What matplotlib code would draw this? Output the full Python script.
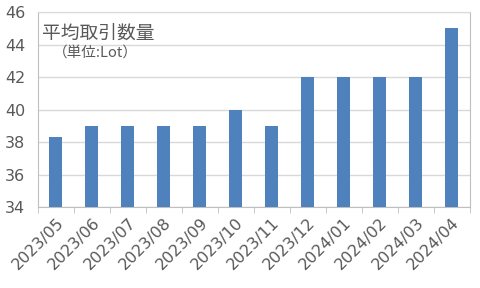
import matplotlib.pyplot as plt
import numpy as np

plt.rcParams['font.family'] = ['Noto Sans CJK JP', 'DejaVu Sans']

months = ['2023/05', '2023/06', '2023/07', '2023/08', '2023/09', '2023/10',
          '2023/11', '2023/12', '2024/01', '2024/02', '2024/03', '2024/04']
avg_lots = [38.3, 39, 39, 39, 39, 40, 39, 42, 42, 42, 42, 45]
y_ticks = [34, 36, 38, 40, 42, 44, 46]

text_col = '#595959'
grid_col = '#d9d9d9'

fig = plt.figure(figsize=(4.8, 2.88), dpi=100)
ax = fig.add_axes([0.079, 0.281, 0.9, 0.677])

x = np.arange(len(months))
ax.bar(x, avg_lots, width=0.36, color='#4f81bd', zorder=3)

ax.set_ylim(34, 46)
ax.set_yticks(y_ticks)
ax.set_xlim(-0.5, len(months) - 0.5)
ax.set_xticks(x)
ax.set_xticklabels(months, rotation=45, ha='right', rotation_mode='anchor',
                   fontfamily='DejaVu Sans')
ax.set_xticks(np.arange(-0.5, len(months)), minor=True)
ax.tick_params(axis='x', which='major', length=0, pad=6, labelsize=11.5, colors=text_col)
ax.tick_params(axis='x', which='minor', length=4, color='#bfbfbf')
ax.tick_params(axis='y', length=0, pad=9, labelsize=11.5, colors=text_col)
for lbl in ax.get_yticklabels():
    lbl.set_fontfamily('DejaVu Sans')

ax.grid(axis='y', color=grid_col, linewidth=1, zorder=0)
for s in ['left', 'bottom', 'right']:
    ax.spines[s].set_color('#bfbfbf')
ax.spines['top'].set_color(grid_col)

ax.text(0.01, 0.945, '平均取引数量', transform=ax.transAxes, fontsize=13.5,
        color=text_col, va='top')
ax.text(0.035, 0.83, '（単位:Lot）', transform=ax.transAxes, fontsize=10.5,
        color=text_col, va='top')

fig.savefig('out.png', dpi=100)
